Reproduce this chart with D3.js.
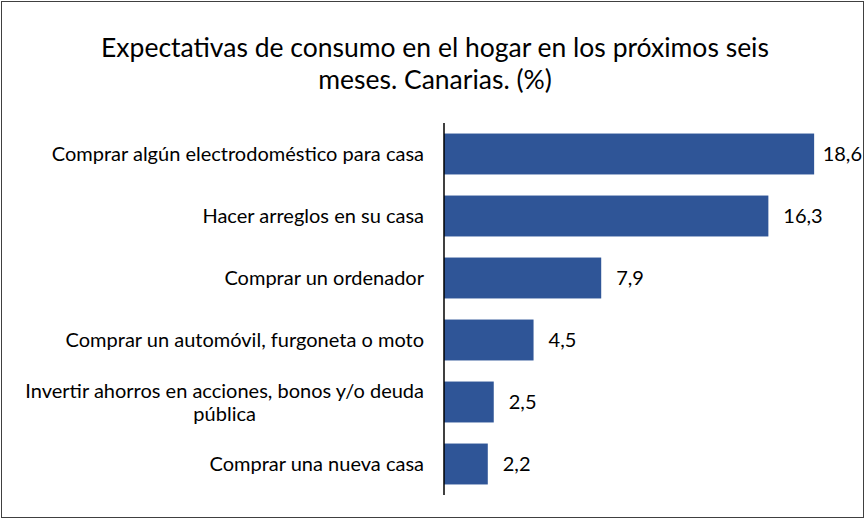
<!DOCTYPE html>
<html>
<head>
<meta charset="utf-8">
<script src="https://cdn.jsdelivr.net/npm/d3@7"></script>
<style>
  body { margin: 0; background: #fff; }
  text { font-family: Lato, "Open Sans", sans-serif; fill: #000; }
</style>
</head>
<body>
<svg id="chart"></svg>
<script>
// data, top to bottom
let categories = [
    "Comprar algún electrodoméstico para casa",
    "Hacer arreglos en su casa",
    "Comprar un ordenador",
    "Comprar un automóvil, furgoneta o moto",
    "Invertir ahorros en acciones, bonos y/o deuda|pública",
    "Comprar una nueva casa"
];
let values = [18.6, 16.3, 7.9, 4.5, 2.5, 2.2];
let titleLines = ["Expectativas de consumo en el hogar en los próximos seis", "meses. Canarias. (%)"];

let width = 865, height = 519;
let axisX = 444;
let plot = { top: 123, bottom: 495, right: 842 };

let svg = d3.select("#chart")
    .attr("width", width)
    .attr("height", height);

// outer border
svg.append("rect")
    .attr("x", 1.5).attr("y", 1.5)
    .attr("width", width - 3).attr("height", height - 3)
    .attr("fill", "#fff")
    .attr("stroke", "#404040")
    .attr("stroke-width", 1);

svg.selectAll(".title")
    .data(titleLines)
    .enter()
    .append("text")
    .attr("class", "title")
    .attr("x", 435)
    .attr("y", function (d, i) { return 57 + i * 32 })
    .attr("text-anchor", "middle")
    .attr("font-size", "26.5px")
    .text(function (d) { return d });

let xScale = d3.scaleLinear()
    .domain([0, 20])
    .range([axisX, plot.right]);

let yScale = d3.scaleBand()
    .domain(categories)
    .range([plot.top, plot.bottom])
    .paddingInner(0.34)
    .paddingOuter(0.17);

svg.selectAll(".bar")
    .data(values)
    .enter()
    .append("rect")
    .attr("class", "bar")
    .attr("x", xScale(0))
    .attr("y", function (d, i) { return yScale(categories[i]) })
    .attr("width", function (d) { return xScale(d) - xScale(0) })
    .attr("height", yScale.bandwidth())
    .attr("fill", "#2F5597");

// value labels, pushed left if they would run off the right edge
let fmt = function (v) { return d3.format(".1f")(v).replace(".", ",") };
svg.selectAll(".value")
    .data(values)
    .enter()
    .append("text")
    .attr("class", "value")
    .attr("font-size", "20px")
    .attr("y", function (d, i) { return yScale(categories[i]) + yScale.bandwidth() / 2 })
    .attr("dy", "0.35em")
    .text(fmt)
    .attr("x", function (d) {
        let w = this.getComputedTextLength();
        return Math.min(xScale(d) + 15, width - 3 - w);
    });

// category labels, wrapped ones get centred inside a right-aligned block
let labelRight = 424;
let lineH = 23;
categories.forEach(function (c, i) {
    let lines = c.split("|");
    let cy = yScale(c) + yScale.bandwidth() / 2;
    let g = svg.append("g");
    let texts = g.selectAll("text")
        .data(lines)
        .enter()
        .append("text")
        .attr("font-size", "20px")
        .attr("y", function (d, j) { return cy + (j - (lines.length - 1) / 2) * lineH })
        .attr("dy", "0.35em")
        .text(function (d) { return d });
    if (lines.length == 1) {
        texts.attr("x", labelRight).attr("text-anchor", "end");
    } else {
        let maxW = d3.max(texts.nodes(), function (n) { return n.getComputedTextLength() });
        texts.attr("x", labelRight - maxW / 2).attr("text-anchor", "middle");
    }
});

// vertical axis line
svg.append("line")
    .attr("x1", axisX).attr("x2", axisX)
    .attr("y1", plot.top).attr("y2", plot.bottom)
    .attr("stroke", "#000")
    .attr("stroke-width", 1.5);
</script>
</body>
</html>
